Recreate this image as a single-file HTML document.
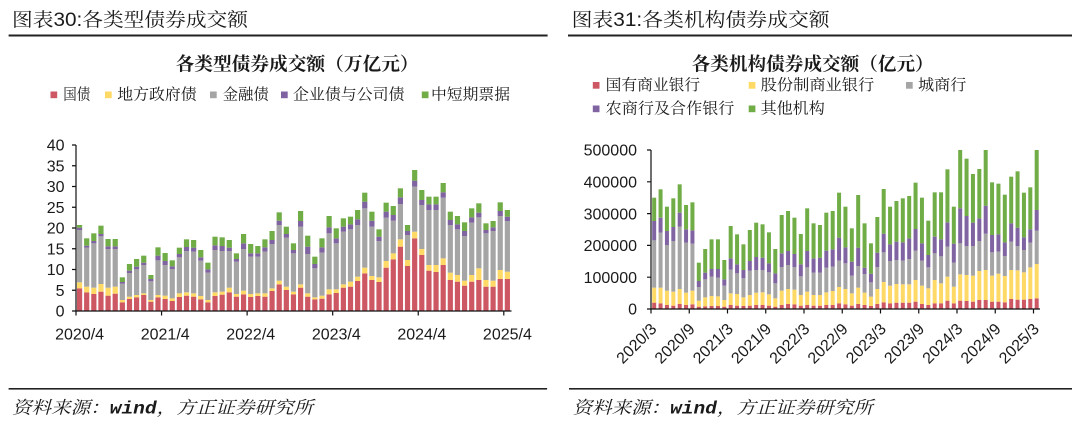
<!DOCTYPE html>
<html>
<head>
<meta charset="utf-8">
<style>
html,body{margin:0;padding:0;background:#fff;}
svg{display:block;}
</style>
</head>
<body>
<svg id="s" width="1080" height="421" viewBox="0 0 1080 421" xmlns="http://www.w3.org/2000/svg">
<rect x="0" y="0" width="1080" height="421" fill="#fff"/>
<g font-family="'Liberation Sans','Noto Sans CJK SC',sans-serif" fill="#1a1a1a">
  <!-- headers -->
  <g font-family="'Liberation Sans','Noto Serif CJK SC',serif">
  <text x="12" y="25.8" font-size="19" textLength="236" lengthAdjust="spacingAndGlyphs">图表30:各类型债券成交额</text>
  <text x="571.6" y="25.8" font-size="19" textLength="258" lengthAdjust="spacingAndGlyphs">图表31:各类机构债券成交额</text>
  </g>
  <rect x="8.6" y="34.5" width="539" height="2" fill="#222"/>
  <rect x="568" y="34.5" width="504" height="2" fill="#222"/>

  <!-- chart titles -->
  <g font-family="'Liberation Serif','Noto Serif CJK SC',serif">
  <text x="175.6" y="70.3" font-size="18.5" font-weight="bold" textLength="243" lengthAdjust="spacingAndGlyphs">各类型债券成交额（万亿元）</text>
  <text x="691.7" y="70.3" font-size="18.5" font-weight="bold" textLength="242" lengthAdjust="spacingAndGlyphs">各类机构债券成交额（亿元）</text>
  </g>

  <!-- left legend -->
  <g font-size="15.5" font-family="'Liberation Serif','Noto Serif CJK SC',serif">
    <rect x="50.5" y="91.5" width="6.7" height="6.7" fill="#CD5763"/>
    <text x="63.3" y="99.5" textLength="27" lengthAdjust="spacingAndGlyphs">国债</text>
    <rect x="105" y="91.5" width="6.7" height="6.7" fill="#FFD966"/>
    <text x="117.3" y="99.5" textLength="79.4" lengthAdjust="spacingAndGlyphs">地方政府债</text>
    <rect x="210" y="91.5" width="6.7" height="6.7" fill="#A5A5A5"/>
    <text x="222.7" y="99.5" textLength="46" lengthAdjust="spacingAndGlyphs">金融债</text>
    <rect x="281" y="91.5" width="6.7" height="6.7" fill="#8064A2"/>
    <text x="293" y="99.5" textLength="111.5" lengthAdjust="spacingAndGlyphs">企业债与公司债</text>
    <rect x="421.8" y="91.5" width="6.7" height="6.7" fill="#70AD47"/>
    <text x="431" y="99.5" textLength="79" lengthAdjust="spacingAndGlyphs">中短期票据</text>
  </g>

  <!-- right legend -->
  <g font-size="15.5" font-family="'Liberation Serif','Noto Serif CJK SC',serif">
    <rect x="592.8" y="82" width="6.7" height="6.7" fill="#CD5763"/>
    <text x="605.7" y="90" textLength="94.5" lengthAdjust="spacingAndGlyphs">国有商业银行</text>
    <rect x="748.7" y="82" width="6.7" height="6.7" fill="#FFD966"/>
    <text x="760.6" y="90" textLength="113.7" lengthAdjust="spacingAndGlyphs">股份制商业银行</text>
    <rect x="906" y="82" width="6.7" height="6.7" fill="#A5A5A5"/>
    <text x="918" y="90" textLength="48.4" lengthAdjust="spacingAndGlyphs">城商行</text>
    <rect x="592.8" y="105.5" width="6.7" height="6.7" fill="#8064A2"/>
    <text x="605.7" y="113.5" textLength="128.7" lengthAdjust="spacingAndGlyphs">农商行及合作银行</text>
    <rect x="748.7" y="105.5" width="6.7" height="6.7" fill="#70AD47"/>
    <text x="760.6" y="113.5" textLength="64.2" lengthAdjust="spacingAndGlyphs">其他机构</text>
  </g>

  <!-- left y labels -->
  <g font-size="16" text-anchor="end">
    <text x="64.5" y="316.7">0</text>
    <text x="64.5" y="295.9">5</text>
    <text x="64.5" y="275.2">10</text>
    <text x="64.5" y="254.4">15</text>
    <text x="64.5" y="233.7">20</text>
    <text x="64.5" y="212.9">25</text>
    <text x="64.5" y="192.2">30</text>
    <text x="64.5" y="171.4">35</text>
    <text x="64.5" y="150.7">40</text>
  </g>
  <!-- left x labels -->
  <g font-size="16" text-anchor="middle">
    <text x="79.6" y="339.5">2020/4</text>
    <text x="165.2" y="339.5">2021/4</text>
    <text x="250.7" y="339.5">2022/4</text>
    <text x="336.3" y="339.5">2023/4</text>
    <text x="421.8" y="339.5">2024/4</text>
    <text x="507.4" y="339.5">2025/4</text>
  </g>

  <!-- right y labels -->
  <g font-size="16" text-anchor="end">
    <text x="637" y="314.7">0</text>
    <text x="637" y="282.9">100000</text>
    <text x="637" y="251.1">200000</text>
    <text x="637" y="219.3">300000</text>
    <text x="637" y="187.5">400000</text>
    <text x="637" y="155.7">500000</text>
  </g>
  <!-- right x labels -->
  <g font-size="16" text-anchor="end">
    <text transform="translate(657.5,330) rotate(-45)">2020/3</text>
    <text transform="translate(695.75,330) rotate(-45)">2020/9</text>
    <text transform="translate(734,330) rotate(-45)">2021/3</text>
    <text transform="translate(772.25,330) rotate(-45)">2021/9</text>
    <text transform="translate(810.5,330) rotate(-45)">2022/3</text>
    <text transform="translate(848.75,330) rotate(-45)">2022/9</text>
    <text transform="translate(887,330) rotate(-45)">2023/3</text>
    <text transform="translate(925.25,330) rotate(-45)">2023/9</text>
    <text transform="translate(963.5,330) rotate(-45)">2024/3</text>
    <text transform="translate(1001.75,330) rotate(-45)">2024/9</text>
    <text transform="translate(1040,330) rotate(-45)">2025/3</text>
  </g>

  <!-- footers -->
  <rect x="8.6" y="388" width="538.5" height="1.6" fill="#222"/>
  <rect x="569" y="388" width="503" height="1.6" fill="#222"/>
  <text x="12" y="413.5" font-size="17.5" font-style="italic" textLength="301" lengthAdjust="spacingAndGlyphs" font-family="'Liberation Serif','Noto Serif CJK SC',serif">资料来源：<tspan font-family="'Liberation Mono',monospace" font-weight="bold">wind</tspan>，方正证券研究所</text>
  <text x="572.7" y="413.5" font-size="17.5" font-style="italic" textLength="300" lengthAdjust="spacingAndGlyphs" font-family="'Liberation Serif','Noto Serif CJK SC',serif">资料来源：<tspan font-family="'Liberation Mono',monospace" font-weight="bold">wind</tspan>，方正证券研究所</text>
</g>

<g id="lb"></g>
<g id="rb"></g>

<!-- axes -->
<g stroke="#111" stroke-width="1.2" fill="none">
  <line x1="76" y1="145" x2="76" y2="311.6"/>
  <line x1="75.4" y1="311" x2="511.5" y2="311"/>
  <path d="M72 311H76M72 290.25H76M72 269.5H76M72 248.75H76M72 228H76M72 207.25H76M72 186.5H76M72 165.75H76M72 145H76"/>
  <path d="M76 311V315.5M161.56 311V315.5M247.12 311V315.5M332.68 311V315.5M418.24 311V315.5M503.8 311V315.5"/>
  <line x1="651" y1="150" x2="651" y2="309.6"/>
  <line x1="650.4" y1="309" x2="1040" y2="309"/>
  <path d="M647 309H651M647 277.2H651M647 245.4H651M647 213.6H651M647 181.8H651M647 150H651"/>
  <path d="M651 309V313.5M689.25 309V313.5M727.5 309V313.5M765.75 309V313.5M804 309V313.5M842.25 309V313.5M880.5 309V313.5M918.75 309V313.5M957 309V313.5M995.25 309V313.5M1033.5 309V313.5"/>
</g>
</svg>
<script>
(function(){
var C=['#CD5763','#FFD966','#A5A5A5','#8064A2','#70AD47'];
var NS='http://www.w3.org/2000/svg';
var L=[
[460,442,285,278,270],[472,455,338,332,310],[477,458,325,318,295],[470,447,304,297,272],[482,458,342,334,312],
[476,455,342,334,312],[502,495,446,441,427],[492,485,414,407,387],[487,480,403,395,372],[480,475,390,383,362],
[500,495,439,432,420],[487,480,376,362,337],[492,482,390,378,354],[498,490,402,394,376],[486,475,367,357,338],
[482,472,348,336,313],[485,475,350,338,315],[493,483,377,367,345],[502,495,413,403,383],[483,472,345,331,305],
[479,470,348,333,307],[472,458,348,338,315],[485,477,380,372,355],[478,467,342,325,297],[486,477,365,355,327],
[483,475,365,355,333],[485,475,350,337,313],[468,460,327,315,288],[448,437,270,257,232],[465,455,308,297,275],
[478,470,355,345,325],[458,448,275,258,228],[485,475,357,335,302],[493,487,400,387,365],[491,482,353,337,310],
[478,463,295,277,243],[474,463,325,310,280],[458,448,290,275,250],[455,440,283,268,245],[438,425,270,253,225],
[415,398,220,200,173],[435,423,275,257,230],[441,427,318,305,283],[398,378,248,230,203],[373,355,257,240,213],
[335,313,207,187,160],[393,375,300,288,270],[310,290,155,137,105],[360,342,210,195,165],[407,390,225,208,185],
[411,390,225,208,185],[390,370,188,172,144],[435,413,270,255,230],[440,420,283,268,243],[452,437,303,288,262],
[440,420,263,247,220],[435,400,247,233,205],[455,435,295,285,265],[455,437,288,277,258],[432,405,243,228,202],
[432,410,258,245,225]];
var R=[
[503,458,316,258,188],[505,458,293,248,163],[510,467,330,288,215],[512,470,318,276,190],[507,462,275,233,148],
[510,473,323,283,210],[508,467,326,286,202],[515,497,456,438,383],[514,487,433,413,342],[513,483,425,402,313],
[513,484,428,402,313],[515,495,452,433,375],[510,475,404,370,273],[512,477,415,388,298],[513,487,430,405,328],
[512,480,407,378,285],[510,473,405,366,263],[510,472,405,368,268],[512,478,412,385,292],[515,490,445,415,342],
[510,467,396,355,240],[507,462,390,348,228],[508,464,396,357,248],[512,480,424,388,297],[510,470,397,348,220],
[512,480,413,370,265],[512,480,413,368,270],[510,472,398,347,233],[510,468,395,343,228],[505,456,377,308,173],
[508,462,385,337,215],[512,475,422,380,280],[507,458,393,338,180],[510,473,417,398,265],[513,485,442,416,325],
[507,462,396,353,246],[502,441,352,296,162],[505,452,378,328,215],[503,447,375,320,198],[503,448,377,322,190],
[503,448,372,310,183],[500,435,347,282,143],[507,452,377,325,188],[510,460,397,360,257],[505,435,355,305,172],
[505,445,364,313,172],[497,425,335,262,103],[505,455,383,326,215],[497,418,325,220,45],[498,420,333,243,71],
[500,422,333,263,117],[495,408,318,250,102],[495,405,296,212,45],[500,422,352,300,142],[500,416,350,298,146],
[502,423,363,322,179],[492,405,320,265,125],[494,406,333,278,109],[494,412,345,307,173],[492,397,323,283,157],
[490,387,287,225,45]];
function draw(id,D,base,x0,step,w){
  var g=document.getElementById(id);
  for(var i=0;i<D.length;i++){
    var d=D[i],prev=base,x=x0+step*i+(step-w)/2;
    for(var k=0;k<5;k++){
      var t=135+d[k]/3,h=prev-t;
      if(h>0){
        var r=document.createElementNS(NS,'rect');
        r.setAttribute('x',x.toFixed(2));
        r.setAttribute('y',t.toFixed(2));
        r.setAttribute('width',w);
        r.setAttribute('height',h.toFixed(2));
        r.setAttribute('fill',C[k]);
        g.appendChild(r);
      }
      prev=t;
    }
  }
}
draw('lb',L,311,76,7.13,5.2);
draw('rb',R,309,651,6.375,4);
})();
</script>
</body>
</html>
